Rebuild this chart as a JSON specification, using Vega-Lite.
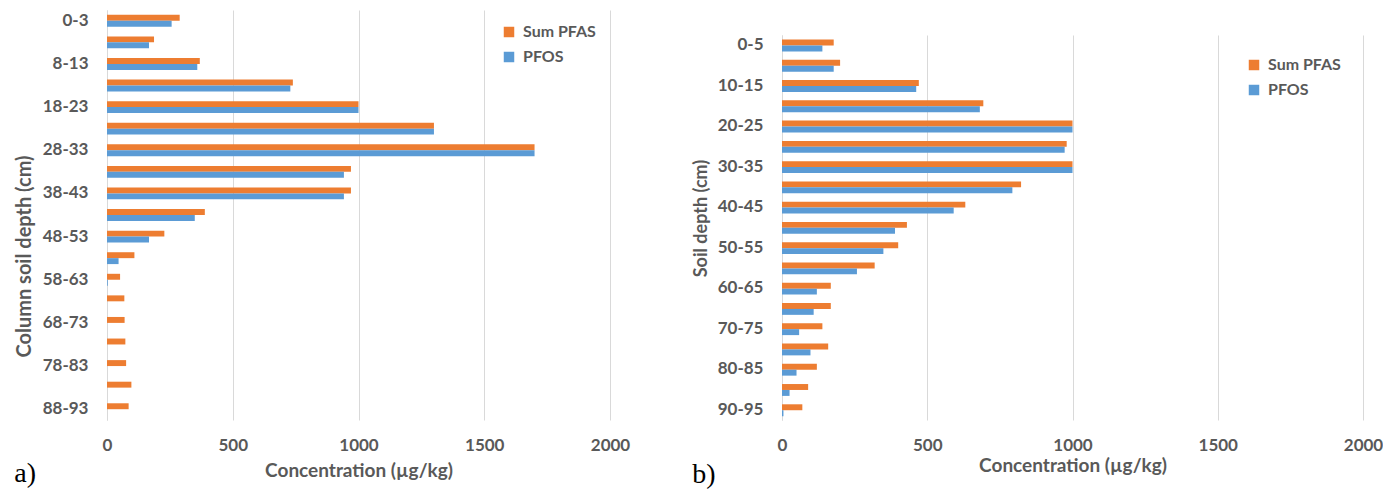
{
  "$schema": "https://vega.github.io/schema/vega-lite/v6.json",
  "background": "white",
  "padding": {"left": 14, "top": 10, "right": 0, "bottom": 0},
  "config": {
    "font": "Lato",
    "view": {"stroke": null},
    "axis": {
      "labelFont": "Lato", "labelFontWeight": "bold", "labelColor": "#595959", "labelFontSize": 17,
      "titleFont": "Lato", "titleFontWeight": "bold", "titleColor": "#595959", "titleFontSize": 19,
      "ticks": false, "gridColor": "#d9d9d9", "domainColor": "#d9d9d9"
    },
    "legend": {
      "labelFont": "Lato", "labelFontWeight": "bold", "labelColor": "#595959", "labelFontSize": 16,
      "symbolType": "square", "symbolSize": 110, "symbolStrokeWidth": 0, "rowPadding": 9, "labelOffset": 6
    }
  },
  "datasets": {
    "a": [
      {"depth": "0-3", "series": "Sum PFAS", "value": 289}, {"depth": "0-3", "series": "PFOS", "value": 257},
      {"depth": "3-8", "series": "Sum PFAS", "value": 187}, {"depth": "3-8", "series": "PFOS", "value": 167},
      {"depth": "8-13", "series": "Sum PFAS", "value": 369}, {"depth": "8-13", "series": "PFOS", "value": 359},
      {"depth": "13-18", "series": "Sum PFAS", "value": 739}, {"depth": "13-18", "series": "PFOS", "value": 729},
      {"depth": "18-23", "series": "Sum PFAS", "value": 1000}, {"depth": "18-23", "series": "PFOS", "value": 1000},
      {"depth": "23-28", "series": "Sum PFAS", "value": 1300}, {"depth": "23-28", "series": "PFOS", "value": 1300},
      {"depth": "28-33", "series": "Sum PFAS", "value": 1700}, {"depth": "28-33", "series": "PFOS", "value": 1700},
      {"depth": "33-38", "series": "Sum PFAS", "value": 970}, {"depth": "33-38", "series": "PFOS", "value": 942},
      {"depth": "38-43", "series": "Sum PFAS", "value": 970}, {"depth": "38-43", "series": "PFOS", "value": 942},
      {"depth": "43-48", "series": "Sum PFAS", "value": 389}, {"depth": "43-48", "series": "PFOS", "value": 349},
      {"depth": "48-53", "series": "Sum PFAS", "value": 228}, {"depth": "48-53", "series": "PFOS", "value": 167},
      {"depth": "53-58", "series": "Sum PFAS", "value": 109}, {"depth": "53-58", "series": "PFOS", "value": 46},
      {"depth": "58-63", "series": "Sum PFAS", "value": 52}, {"depth": "58-63", "series": "PFOS", "value": 3},
      {"depth": "63-68", "series": "Sum PFAS", "value": 69}, {"depth": "63-68", "series": "PFOS", "value": 0},
      {"depth": "68-73", "series": "Sum PFAS", "value": 70}, {"depth": "68-73", "series": "PFOS", "value": 0},
      {"depth": "73-78", "series": "Sum PFAS", "value": 73}, {"depth": "73-78", "series": "PFOS", "value": 0},
      {"depth": "78-83", "series": "Sum PFAS", "value": 76}, {"depth": "78-83", "series": "PFOS", "value": 0},
      {"depth": "83-88", "series": "Sum PFAS", "value": 97}, {"depth": "83-88", "series": "PFOS", "value": 0},
      {"depth": "88-93", "series": "Sum PFAS", "value": 86}, {"depth": "88-93", "series": "PFOS", "value": 0}
    ],
    "b": [
      {"depth": "0-5", "series": "Sum PFAS", "value": 178}, {"depth": "0-5", "series": "PFOS", "value": 139},
      {"depth": "5-10", "series": "Sum PFAS", "value": 200}, {"depth": "5-10", "series": "PFOS", "value": 178},
      {"depth": "10-15", "series": "Sum PFAS", "value": 471}, {"depth": "10-15", "series": "PFOS", "value": 462},
      {"depth": "15-20", "series": "Sum PFAS", "value": 693}, {"depth": "15-20", "series": "PFOS", "value": 681},
      {"depth": "20-25", "series": "Sum PFAS", "value": 1000}, {"depth": "20-25", "series": "PFOS", "value": 1000},
      {"depth": "25-30", "series": "Sum PFAS", "value": 980}, {"depth": "25-30", "series": "PFOS", "value": 973},
      {"depth": "30-35", "series": "Sum PFAS", "value": 1000}, {"depth": "30-35", "series": "PFOS", "value": 1000},
      {"depth": "35-40", "series": "Sum PFAS", "value": 823}, {"depth": "35-40", "series": "PFOS", "value": 793},
      {"depth": "40-45", "series": "Sum PFAS", "value": 631}, {"depth": "40-45", "series": "PFOS", "value": 591},
      {"depth": "45-50", "series": "Sum PFAS", "value": 430}, {"depth": "45-50", "series": "PFOS", "value": 389},
      {"depth": "50-55", "series": "Sum PFAS", "value": 400}, {"depth": "50-55", "series": "PFOS", "value": 349},
      {"depth": "55-60", "series": "Sum PFAS", "value": 319}, {"depth": "55-60", "series": "PFOS", "value": 258},
      {"depth": "60-65", "series": "Sum PFAS", "value": 168}, {"depth": "60-65", "series": "PFOS", "value": 120},
      {"depth": "65-70", "series": "Sum PFAS", "value": 168}, {"depth": "65-70", "series": "PFOS", "value": 109},
      {"depth": "70-75", "series": "Sum PFAS", "value": 139}, {"depth": "70-75", "series": "PFOS", "value": 59},
      {"depth": "75-80", "series": "Sum PFAS", "value": 159}, {"depth": "75-80", "series": "PFOS", "value": 98},
      {"depth": "80-85", "series": "Sum PFAS", "value": 120}, {"depth": "80-85", "series": "PFOS", "value": 50},
      {"depth": "85-90", "series": "Sum PFAS", "value": 90}, {"depth": "85-90", "series": "PFOS", "value": 26},
      {"depth": "90-95", "series": "Sum PFAS", "value": 70}, {"depth": "90-95", "series": "PFOS", "value": 5}
    ]
  },
  "spacing": 62,
  "resolve": {"scale": {"color": "independent"}, "legend": {"color": "independent"}},
  "hconcat": [
    {
      "width": 503,
      "height": 410,
      "title": {"text": "a)", "orient": "bottom", "anchor": "start", "frame": "bounds", "font": "Liberation Serif", "fontSize": 28, "fontWeight": "normal", "color": "black", "offset": -20},
      "data": {"name": "a"},
      "mark": {"type": "bar"},
      "encoding": {
        "y": {
          "field": "depth", "type": "nominal", "sort": null,
          "scale": {"paddingInner": 0.45, "paddingOuter": 0.225},
          "axis": {"title": "Column soil depth (cm)", "titleFontSize": 20, "labelPadding": 19, "titlePadding": 8, "titleY": 246,
                   "values": ["0-3", "8-13", "18-23", "28-33", "38-43", "48-53", "58-63", "68-73", "78-83", "88-93"]}
        },
        "yOffset": {"field": "series", "type": "nominal", "sort": ["Sum PFAS", "PFOS"]},
        "x": {
          "field": "value", "type": "quantitative",
          "scale": {"domain": [0, 2000], "nice": false},
          "axis": {"title": "Concentration (µg/kg)", "values": [0, 500, 1000, 1500, 2000], "format": "d", "labelFlush": false, "domain": false, "grid": true, "labelPadding": 17, "titlePadding": 8}
        },
        "color": {
          "field": "series", "type": "nominal",
          "scale": {"domain": ["Sum PFAS", "PFOS"], "range": ["#ED7D31", "#5B9BD5"]},
          "legend": {"title": null, "orient": "top-right", "offset": 14}
        }
      }
    },
    {
      "title": {"text": "b)", "orient": "bottom", "anchor": "start", "frame": "bounds", "font": "Liberation Serif", "fontSize": 28, "fontWeight": "normal", "color": "black", "offset": -14},
      "spacing": 20,
      "resolve": {"scale": {"color": "independent"}, "legend": {"color": "independent"}},
      "vconcat": [
        {
          "width": 581,
          "height": 5,
          "data": {"values": []},
          "mark": {"type": "point"}
        },
        {
          "width": 581,
          "height": 385,
          "data": {"name": "b"},
          "mark": {"type": "bar"},
          "encoding": {
            "y": {
              "field": "depth", "type": "nominal", "sort": null,
              "scale": {"paddingInner": 0.45, "paddingOuter": 0.225},
              "axis": {"title": "Soil depth (cm)", "titleFontSize": 18, "labelPadding": 19, "titlePadding": 7, "titleY": 183,
                       "values": ["0-5", "10-15", "20-25", "30-35", "40-45", "50-55", "60-65", "70-75", "80-85", "90-95"]}
            },
            "yOffset": {"field": "series", "type": "nominal", "sort": ["Sum PFAS", "PFOS"]},
            "x": {
              "field": "value", "type": "quantitative",
              "scale": {"domain": [0, 2000], "nice": false},
              "axis": {"title": "Concentration (µg/kg)", "values": [0, 500, 1000, 1500, 2000], "format": "d", "labelFlush": false, "domain": false, "grid": true, "labelPadding": 17, "titlePadding": 3}
            },
            "color": {
              "field": "series", "type": "nominal",
              "scale": {"domain": ["Sum PFAS", "PFOS"], "range": ["#ED7D31", "#5B9BD5"]},
              "legend": {"title": null, "orient": "top-right", "offset": 22}
            }
          }
        }
      ]
    }
  ]
}
